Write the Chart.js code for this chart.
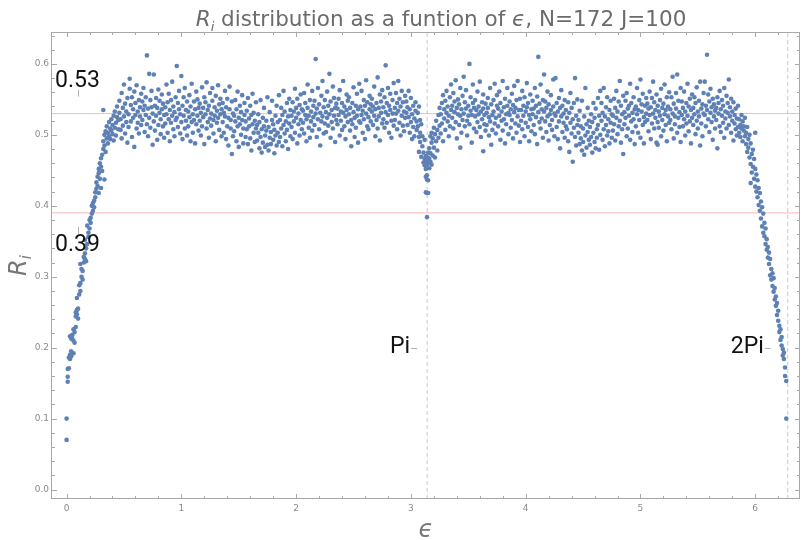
<!DOCTYPE html>
<html><head><meta charset="utf-8">
<script src="https://cdn.jsdelivr.net/npm/chart.js@4.4.1/dist/chart.umd.min.js"></script>
<style>html,body{margin:0;padding:0;background:#fff}</style>
</head><body>
<canvas id="c" width="804" height="540"></canvas>
<script>
// ---- DATA (epsilon in hundredths, R in thousandths) ----
const riseLeft = [[0,70],[0,100],[1,152],[1,159],[1,170],[2,171],[2,186],[3,184],[3,190],[4,195],[4,213],[3,216],[5,218],[5,212],[6,210],[6,226],[7,207],[7,222],[8,229],[6,192],[4,188],[8,244],[8,250],[9,253],[9,247],[10,255],[10,241],[9,270],[11,275],[11,288],[12,291],[12,280],[13,300],[13,311],[14,308],[12,318],[14,296],[15,320],[15,328],[16,333],[16,325],[17,340],[17,322],[18,346],[16,352],[19,356],[19,362],[20,368],[18,372],[21,376],[21,383],[22,389],[20,380],[23,393],[22,400],[23,404],[24,407],[24,398],[25,412],[25,419],[26,424],[26,433],[27,441],[27,428],[28,446],[28,452],[29,438],[29,460],[30,455],[30,467],[31,472],[31,449],[32,480],[32,491],[33,500],[33,485],[34,476],[34,505],[35,495],[35,512],[36,488],[36,503],[37,498],[37,518],[38,509],[38,494],[39,522],[39,506],[40,501],[40,514],[41,527],[41,492],[42,510],[42,533],[43,517],[43,499],[44,525],[44,540],[45,508],[45,521],[30,425],[33,437],[28,418],[32,535]];
const plateauLeft = [
[46,531],[46,548],[47,507],[47,522],[48,559],[48,495],[49,538],[49,513],[50,571],[50,526],[51,502],[51,544],[52,518],[52,533],[53,489],[53,552],[54,529],[54,511],[55,565],[55,579],
[56,542],[56,519],[57,553],[57,497],[58,536],[58,524],[59,561],[59,483],[60,528],[60,545],[61,509],[61,570],[62,533],[62,517],[63,549],[63,502],[64,539],[64,526],[65,558],[65,514],
[66,547],[66,521],[67,535],[67,566],[68,504],[68,541],[69,528],[69,553],[70,612],[70,515],[71,537],[71,498],[72,586],[72,524],[73,549],[73,510],[74,539],[74,562],[75,486],[75,530],
[76,585],[76,519],[77,541],[77,506],[78,552],[78,527],[79,493],[79,538],[80,564],[80,514],[81,531],[81,548],[82,501],[82,522],[83,557],[83,536],[84,512],[84,544],[85,496],[85,528],
[86,539],[86,516],[87,571],[87,529],[88,503],[88,546],[89,522],[89,558],[90,491],[90,535],[91,517],[91,549],[92,527],[92,575],[93,508],[93,540],[94,532],[94,498],[95,553],[95,521],
[96,597],[96,524],[97,545],[97,511],[98,536],[98,562],[99,502],[99,529],[100,583],[100,518],[101,541],[101,494],[102,553],[102,527],[103,509],[103,566],[104,535],[104,520],[105,547],[105,499],
[106,533],[106,512],[107,556],[107,525],[108,491],[108,540],[109,518],[109,572],[110,529],[110,503],[111,547],[111,521],[112,536],[112,488],[113,561],[113,515],[114,527],[114,550],[115,506],[115,538],
[116,544],[116,520],[117,499],[117,531],[118,567],[118,512],[119,538],[119,525],[120,553],[120,487],[121,529],[121,546],[122,509],[122,574],[123,535],[123,518],[124,496],[124,541],[125,559],[125,523],
[126,530],[126,513],[127,548],[127,566],[128,521],[128,502],[129,539],[129,527],[130,555],[130,491],[131,534],[131,517],[132,570],[132,524],[133,507],[133,543],[134,529],[134,551],[135,498],[135,536],
[136,545],[136,518],[137,503],[137,531],[138,562],[138,526],[139,494],[139,539],[140,512],[140,551],[141,485],[141,524],[142,536],[142,568],[143,509],[143,521],[144,473],[144,547],[145,530],[145,498],
[146,527],[146,505],[147,549],[147,519],[148,491],[148,536],[149,561],[149,512],[150,524],[150,483],[151,541],[151,515],[152,500],[152,532],[153,556],[153,521],[154,488],[154,509],[155,545],[155,528],
[156,519],[156,497],[157,534],[157,508],[158,552],[158,487],[159,523],[159,512],[160,541],[160,495],[161,528],[161,478],[162,515],[162,558],[163,503],[163,531],[164,490],[164,520],[165,546],[165,509],
[166,514],[166,492],[167,529],[167,503],[168,481],[168,518],[169,549],[169,497],[170,508],[170,475],[171,524],[171,489],[172,512],[172,538],[173,499],[173,483],[174,520],[174,506],[175,553],[175,486],
[176,511],[176,478],[177,496],[177,532],[178,504],[178,487],[179,521],[179,548],[180,493],[180,515],[181,474],[181,507],[182,527],[182,499],[183,541],[183,485],[184,518],[184,503],[185,556],[185,490],
[186,521],[186,497],[187,538],[187,509],[188,484],[188,528],[189,562],[189,514],[190,502],[190,533],[191,491],[191,519],[192,545],[192,507],[193,526],[193,480],[194,551],[194,516],[195,498],[195,535],
[196,527],[196,511],[197,546],[197,494],[198,533],[198,519],[199,565],[199,503],[200,538],[200,524],[201,488],[201,551],[202,515],[202,530],[203,499],[203,542],[204,521],[204,557],[205,508],[205,536],
[206,534],[206,517],[207,559],[207,502],[208,528],[208,545],[209,491],[209,522],[210,571],[210,538],[211,510],[211,527],[212,549],[212,496],[213,533],[213,519],[214,562],[214,506],[215,541],[215,525],
[216,548],[216,514],[217,607],[217,530],[218,497],[218,537],[219,522],[219,566],[220,508],[220,543],[221,531],[221,485],[222,555],[222,519],[223,526],[223,576],[224,502],[224,539],[225,516],[225,549],
[226,532],[226,504],[227,561],[227,524],[228,541],[228,513],[229,586],[229,529],[230,496],[230,547],[231,518],[231,535],[232,568],[232,509],[233,527],[233,552],[234,490],[234,538],[235,521],[235,544],
[236,537],[236,515],[237,551],[237,528],[238,499],[238,563],[239,533],[239,520],[240,545],[240,507],[241,576],[241,531],[242,512],[242,540],[243,526],[243,494],[244,557],[244,535],[245,518],[245,548],
[246,529],[246,553],[247,506],[247,538],[248,521],[248,484],[249,545],[249,515],[250,567],[250,532],[251,497],[251,524],[252,541],[252,510],[253,558],[253,527],[254,489],[254,536],[255,519],[255,572],
[256,540],[256,517],[257,528],[257,562],[258,503],[258,534],[259,549],[259,522],[260,494],[260,541],[261,577],[261,530],[262,512],[262,546],[263,525],[263,508],[264,555],[264,536],[265,519],[265,543],
[266,533],[266,551],[267,514],[267,540],[268,527],[268,568],[269,498],[269,536],[270,545],[270,521],[271,581],[271,509],[272,538],[272,526],[273,557],[273,492],[274,531],[274,547],[275,516],[275,563],
[276,539],[276,522],[277,553],[277,510],[278,598],[278,532],[279,545],[279,517],[280,566],[280,528],[281,503],[281,541],[282,535],[282,558],[283,520],[283,496],[284,549],[284,530],[285,573],[285,513],
[286,538],[286,521],[287,559],[287,530],[288,545],[288,508],[289,576],[289,534],[290,517],[290,551],[291,499],[291,540],[292,527],[292,562],[293,513],[293,546],[294,533],[294,505],[295,555],[295,524],
[296,531],[296,547],[297,514],[297,539],[298,525],[298,562],[299,503],[299,536],[300,518],[300,552],[301,494],[301,529],[302,541],[302,511],[303,523],[303,498],[304,534],[304,546],[305,507],[305,519]];
const dipCentre = [[306,512],[306,531],[307,497],[307,540],[307,476],[308,521],[308,490],[308,503],[309,469],[309,515],[310,484],[310,498],[311,461],[311,475],[312,493],[312,466],[312,457],[313,470],[313,463],[313,452],[314,384],[314,418],[313,419],[315,418],[314,437],[314,443],[313,441],[315,436],[314,458],[315,460],[315,468],[315,475],[316,453],[316,466],[316,481],[317,462],[317,474],[317,498],[318,458],[318,489],[318,503],[319,471],[319,495],[320,482],[320,510],[321,468],[321,501],[322,520],[322,491],[323,507],[323,478],[324,528],[324,496],[325,513],[325,538]];
const plateauRight = [
[326,502],[326,529],[327,545],[327,516],[328,556],[328,491],[329,536],[329,523],[330,507],[330,548],[331,531],[331,562],[332,519],[332,540],[333,498],[333,527],[334,553],[334,512],[335,535],[335,571],
[336,541],[336,524],[337,559],[337,509],[338,532],[338,547],[339,518],[339,577],[340,538],[340,495],[341,550],[341,529],[342,514],[342,543],[343,566],[343,527],[344,503],[344,536],[345,555],[345,521],[343,482],
[346,582],[346,530],[347,512],[347,546],[348,537],[348,563],[349,520],[349,499],[350,541],[350,527],[351,600],[351,515],[352,553],[352,534],[353,489],[353,528],[354,545],[354,571],[355,509],[355,538],
[356,526],[356,549],[357,504],[357,535],[358,561],[358,518],[359,540],[359,529],[360,575],[360,511],[361,533],[361,497],[362,546],[362,522],[363,557],[363,537],[364,515],[364,528],[365,544],[365,506],[363,477],
[366,531],[366,514],[367,552],[367,538],[368,499],[368,525],[369,566],[369,519],[370,486],[370,543],[371,528],[371,507],[372,549],[372,533],[373,516],[373,572],[374,524],[374,502],[375,541],[375,556],
[376,537],[376,512],[377,527],[377,561],[378,493],[378,545],[379,520],[379,533],[380,576],[380,506],[381,539],[381,522],[382,551],[382,488],[383,529],[383,515],[384,566],[384,541],[385,501],[385,531],
[386,528],[386,547],[387,510],[387,536],[388,558],[388,521],[389,495],[389,542],[390,532],[390,569],[391,516],[391,538],[392,503],[392,549],[393,526],[393,576],[394,513],[394,535],[395,551],[395,490],
[396,535],[396,520],[397,562],[397,508],[398,541],[398,527],[399,498],[399,553],[400,533],[400,517],[401,573],[401,539],[402,511],[402,545],[403,528],[403,491],[404,557],[404,522],[405,536],[405,505],
[406,529],[406,548],[407,514],[407,537],[408,566],[408,501],[409,541],[409,525],[410,554],[410,487],[411,610],[411,532],[412,518],[412,544],[413,571],[413,509],[414,536],[414,523],[415,549],[415,496],
[416,533],[416,585],[417,519],[417,547],[418,504],[418,538],[419,561],[419,526],[420,492],[420,543],[421,529],[421,514],[422,556],[422,535],[423,507],[423,521],[424,578],[424,540],[425,498],[425,530],
[426,580],[426,527],[427,511],[427,545],[428,533],[428,494],[429,552],[429,519],[430,538],[430,481],[431,526],[431,563],[432,504],[432,541],[433,517],[433,530],[434,549],[434,496],[435,535],[435,512],
[436,524],[436,508],[437,546],[437,491],[438,476],[438,531],[439,517],[439,559],[440,502],[440,538],[441,462],[441,522],[442,510],[442,545],[443,580],[443,497],[444,527],[444,485],[445,514],[445,550],
[446,503],[446,521],[447,487],[447,534],[448,495],[448,512],[449,548],[449,478],[450,509],[450,490],[451,526],[451,472],[452,566],[452,499],[453,515],[453,482],[454,538],[454,504],[455,493],[455,520],
[456,511],[456,486],[457,529],[457,497],[458,475],[458,518],[459,545],[459,503],[460,490],[460,524],[461,481],[461,537],[462,508],[462,496],[463,552],[463,514],[464,479],[464,527],[465,500],[465,562],
[466,520],[466,545],[467,493],[467,531],[468,508],[468,566],[469,526],[469,484],[470,514],[470,539],[471,499],[471,553],[472,522],[472,505],[473,535],[473,488],[474,548],[474,517],[475,529],[475,496],
[476,527],[476,506],[477,551],[477,515],[478,538],[478,492],[479,562],[479,524],[480,501],[480,533],[481,547],[481,512],[482,576],[482,520],[483,489],[483,541],[484,529],[484,508],[485,473],[485,555],
[486,532],[486,515],[487,548],[487,524],[488,498],[488,559],[489,537],[489,509],[490,541],[490,527],[491,572],[491,493],[492,519],[492,545],[493,531],[493,504],[494,553],[494,522],[495,487],[495,536],
[496,540],[496,512],[497,529],[497,566],[498,503],[498,535],[499,549],[499,521],[500,578],[500,496],[501,533],[501,543],[502,514],[502,558],[503,525],[503,488],[504,541],[504,518],[505,552],[505,530],
[506,521],[506,544],[507,537],[507,505],[508,561],[508,528],[509,494],[509,539],[510,516],[510,552],[511,530],[511,575],[512,509],[512,546],[513,524],[513,535],[514,489],[514,557],[515,518],[515,541],[515,486],
[516,533],[516,510],[517,549],[517,527],[518,565],[518,498],[519,538],[519,521],[520,544],[520,506],[521,529],[521,571],[522,514],[522,535],[523,553],[523,491],[524,526],[524,540],[525,517],[525,560],
[526,536],[526,521],[527,553],[527,508],[528,582],[528,530],[529,495],[529,544],[530,526],[530,515],[531,559],[531,537],[532,585],[532,503],[533,524],[533,548],[534,511],[534,532],[535,566],[535,490],
[536,528],[536,547],[537,512],[537,538],[538,561],[538,522],[539,499],[539,533],[540,545],[540,516],[541,572],[541,527],[542,505],[542,540],[543,551],[543,519],[544,488],[544,535],[545,524],[545,557],
[546,538],[546,514],[547,553],[547,529],[548,501],[548,545],[549,567],[549,520],[550,533],[550,509],[551,548],[551,526],[552,485],[552,575],[553,537],[553,516],[554,543],[554,498],[555,530],[555,559],
[556,575],[556,528],[557,541],[557,512],[558,613],[558,535],[559,522],[559,557],[560,547],[560,504],[561,531],[561,565],[562,518],[562,539],[563,493],[563,551],[564,526],[564,543],[565,509],[565,534],
[566,538],[566,521],[567,553],[567,481],[568,530],[568,545],[569,512],[569,562],[570,536],[570,504],[571,549],[571,527],[572,517],[572,541],[573,566],[573,496],[574,533],[574,523],[575,555],[575,509],
[576,531],[576,545],[577,514],[577,578],[578,526],[578,539],[579,503],[579,551],[580,520],[580,533],[581,492],[581,546],[582,516],[582,528],[583,508],[583,537],[584,499],[584,523],[585,511],[585,541]];
const fallRight = [[586,522],[586,503],[587,514],[587,497],[588,528],[588,509],[589,519],[589,491],[590,506],[590,512],[591,498],[591,524],[592,487],[592,503],[593,511],[593,476],[594,494],[594,482],[595,500],[595,468],[596,488],[596,459],[596,432],[597,473],[597,447],[598,479],[598,455],[599,466],[599,438],[600,503],[600,452],[600,427],[601,444],[601,420],[602,436],[602,412],[603,425],[603,401],[604,418],[604,393],[605,406],[605,382],[606,398],[606,371],[607,389],[607,362],[608,376],[608,357],[609,368],[609,346],[610,353],[610,338],[611,342],[611,327],[612,334],[612,318],[613,325],[613,302],[614,311],[614,296],[615,305],[615,287],[616,298],[616,279],[617,284],[617,268],[618,272],[618,259],[619,263],[619,246],[620,252],[620,238],[621,231],[621,222],[622,226],[622,211],[623,215],[623,203],[624,198],[624,189],[625,193],[625,184],[626,172],[626,160],[627,153],[627,100]];

const refLevels = [0.53, 0.39];
const refLabels = ['0.53', '0.39'];
const markValues = [Math.PI, 2 * Math.PI];
const markLabels = ['Pi', '2Pi'];
const xTickValues = [0, 1, 2, 3, 4, 5, 6];
const yTickValues = [0.0, 0.1, 0.2, 0.3, 0.4, 0.5, 0.6];
const titleParts = [['R','it'],['i','sub'],[' distribution as a funtion of ','n'],['\u03f5','it'],[', N=172 J=100','n']];
const xTitle = '\u03f5';

// ---- CHART ----
const X_MIN = -0.127, X_MAX = 6.39, Y_MIN = -0.0133, Y_MAX = 0.645;
const points = [].concat(riseLeft, plateauLeft, dipCentre, plateauRight, fallRight)
  .map(p => ({x: p[0] / 100, y: p[1] / 1000}));

const datasets = [];
refLevels.forEach(v => datasets.push({type:'line', data:[{x:X_MIN,y:v},{x:X_MAX,y:v}],
  borderColor:'rgba(255,60,60,0.38)', borderWidth:1, pointRadius:0, order:2}));
markValues.forEach(v => datasets.push({type:'line', data:[{x:v,y:Y_MIN},{x:v,y:Y_MAX}],
  borderColor:'#c9c9c9', borderWidth:1, borderDash:[4,3], pointRadius:0, order:2}));
datasets.push({type:'scatter', data:points, pointRadius:2.3, pointBorderWidth:0,
  pointBackgroundColor:'#5e81b5', backgroundColor:'#5e81b5', order:1});

const FAM = 'DejaVu Sans';
const deco = {
  id:'deco',
  afterDraw(chart){
    const {ctx, chartArea:a, scales:{x, y}} = chart;
    ctx.save();
    // frame
    ctx.strokeStyle = '#a8a8a8'; ctx.lineWidth = 1;
    ctx.strokeRect(a.left - 0.5, a.top + 0.5, a.right - a.left, a.bottom - a.top - 1);
    // ticks (inward, all sides)
    ctx.beginPath();
    for (let k = 0; k <= 32; k++) {
      const py = Math.round(y.getPixelForValue(k * 0.02)) + 0.5;
      const len = k % 5 === 0 ? 5 : 3;
      ctx.moveTo(a.left, py); ctx.lineTo(a.left + len, py);
      ctx.moveTo(a.right, py); ctx.lineTo(a.right - len, py);
    }
    for (let k = 0; k <= 31; k++) {
      const px = Math.round(x.getPixelForValue(k * 0.2)) + 0.5;
      const len = k % 5 === 0 ? 5 : 3;
      ctx.moveTo(px, a.bottom); ctx.lineTo(px, a.bottom - len);
      ctx.moveTo(px, a.top); ctx.lineTo(px, a.top + len);
    }
    ctx.stroke();

    // callout labels for reference levels
    ctx.fillStyle = '#111'; ctx.font = '23px Roboto';
    ctx.textAlign = 'center'; ctx.textBaseline = 'alphabetic';
    ctx.strokeStyle = '#b0b0b0';
    const y53 = y.getPixelForValue(refLevels[0]);
    const y39 = y.getPixelForValue(refLevels[1]);
    ctx.fillText(refLabels[0], 77.5, y53 - 27);
    ctx.fillText(refLabels[1], 77.5, y39 + 38);
    ctx.beginPath();
    ctx.moveTo(78.5, y53 - 24); ctx.lineTo(78.5, y53 - 17);
    ctx.moveTo(78.5, y39 + 14); ctx.lineTo(78.5, y39 + 21);
    ctx.stroke();

    // Pi / 2Pi labels at R = 0.2
    const yl = y.getPixelForValue(0.2);
    ctx.textAlign = 'right'; ctx.textBaseline = 'middle';
    const offs = [[17, 16, 10], [24, 23, 17]];
    markValues.forEach((v, i) => {
      const px = x.getPixelForValue(v);
      ctx.fillText(markLabels[i], px - offs[i][0], yl);
      ctx.beginPath();
      ctx.moveTo(px - offs[i][1], Math.round(yl) + 0.5); ctx.lineTo(px - offs[i][2], Math.round(yl) + 0.5);
      ctx.stroke();
    });

    // title
    const size = 21.5;
    const fonts = {it:`italic ${size}px ${FAM}`, n:`${size}px ${FAM}`, sub:`italic ${Math.round(size*0.62)}px ${FAM}`};
    let total = 0;
    titleParts.forEach(p => { ctx.font = fonts[p[1]]; total += ctx.measureText(p[0]).width; });
    let tx = 441 - total / 2;
    ctx.fillStyle = '#6b6b6b'; ctx.textAlign = 'left'; ctx.textBaseline = 'alphabetic';
    titleParts.forEach(p => {
      ctx.font = fonts[p[1]];
      ctx.fillText(p[0], tx, 26 + (p[1] === 'sub' ? 5 : 0));
      tx += ctx.measureText(p[0]).width;
    });

    // y axis title R_i
    ctx.save();
    ctx.translate(26, (a.top + a.bottom) / 2);
    ctx.rotate(-Math.PI / 2);
    ctx.fillStyle = '#777';
    ctx.font = `italic 24px ${FAM}`;
    const wR = ctx.measureText('R').width;
    ctx.font = `italic 15px ${FAM}`;
    const wi = ctx.measureText('i').width;
    let sx = -(wR + wi) / 2;
    ctx.font = `italic 24px ${FAM}`; ctx.fillText('R', sx, 0);
    ctx.font = `italic 15px ${FAM}`; ctx.fillText('i', sx + wR, 5);
    ctx.restore();

    // x axis title
    ctx.fillStyle = '#777'; ctx.textAlign = 'center';
    ctx.font = `italic 24px ${FAM}`;
    ctx.fillText(xTitle, (a.left + a.right) / 2, 537);
    ctx.restore();
  }
};

Chart.defaults.font.family = FAM;
new Chart(document.getElementById('c'), {
  data: {datasets},
  options: {
    responsive:false, animation:false, devicePixelRatio:1,
    layout:{padding:{top:32, right:1, left:0, bottom:0}},
    plugins:{legend:{display:false}, title:{display:false}, tooltip:{enabled:false}},
    scales:{
      x:{type:'linear', min:X_MIN, max:X_MAX,
        afterBuildTicks(s){ s.ticks = xTickValues.map(v => ({value:v})); },
        afterFit(s){ s.height = 41; },
        grid:{display:false, drawTicks:false}, border:{display:false},
        ticks:{color:'#8a8a8a', font:{size:9}, padding:4, maxRotation:0,
          callback:v => String(v)}},
      y:{type:'linear', min:Y_MIN, max:Y_MAX,
        afterBuildTicks(s){ s.ticks = yTickValues.map(v => ({value:v})); },
        afterFit(s){ s.width = 52; },
        grid:{display:false, drawTicks:false}, border:{display:false},
        ticks:{color:'#8a8a8a', font:{size:9}, padding:3,
          callback:v => Number(v).toFixed(1)}}
    }
  },
  plugins:[deco]
});
</script>
</body></html>
